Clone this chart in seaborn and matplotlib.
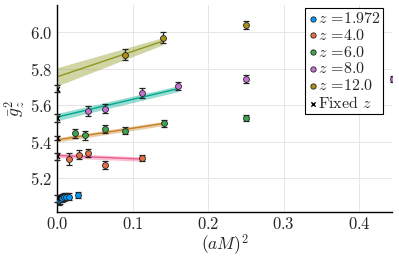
import numpy as np
import pandas as pd
import matplotlib
matplotlib.use('Agg')
import matplotlib.pyplot as plt
import seaborn as sns

# measured points per z value
blue_x = [0.002, 0.004, 0.006, 0.009, 0.012, 0.016, 0.028]
blue_y = [5.080, 5.085, 5.090, 5.095, 5.100, 5.100, 5.110]
blue_e = [0.025, 0.025, 0.022, 0.022, 0.020, 0.018, 0.016]

orange_x = [0.016, 0.029, 0.041, 0.063, 0.112]
orange_y = [5.306, 5.328, 5.339, 5.273, 5.310]
orange_e = [0.035, 0.025, 0.022, 0.020, 0.015]

green_x = [0.024, 0.037, 0.063, 0.090, 0.141, 0.250]
green_y = [5.446, 5.435, 5.470, 5.460, 5.500, 5.530]
green_e = [0.025, 0.025, 0.020, 0.018, 0.018, 0.016]

purple_x = [0.041, 0.063, 0.112, 0.160, 0.250, 0.444]
purple_y = [5.570, 5.580, 5.668, 5.706, 5.744, 5.744]
purple_e = [0.028, 0.025, 0.028, 0.022, 0.020, 0.015]

olive_x = [0.090, 0.140, 0.250]
olive_y = [5.875, 5.970, 6.040]
olive_e = [0.030, 0.032, 0.022]

# fixed-z values at (aM)^2 = 0
fixed_x = [0.0, 0.0, 0.0, 0.0, 0.0]
fixed_y = [5.09, 5.32, 5.42, 5.53, 5.69]
fixed_e = [0.02, 0.02, 0.01, 0.02, 0.02]

# linear fits: end points, centre and half width of band
fit4_x, fit4_y, fit4_w = [0.0, 0.112], [5.325, 5.305], [0.012, 0.012]
fit6_x, fit6_y, fit6_w = [0.0, 0.141], [5.410, 5.500], [0.012, 0.012]
fit8_x, fit8_y, fit8_w = [0.0, 0.160], [5.535, 5.690], [0.020, 0.016]
fit12_x, fit12_y, fit12_w = [0.0, 0.140], [5.755, 5.950], [0.050, 0.020]

labels = ['$z$ =1.972', '$z$ =4.0', '$z$ =6.0', '$z$ =8.0', '$z$ =12.0']
point_colors = ['#009AFA', '#E36F47', '#3EA44E', '#C371D2', '#AC8E18']
fit_colors = ['#ED5E93', '#C68225', '#00A98D', '#8E971D']

sns.set_theme(style='whitegrid')
plt.rcParams['font.family'] = 'serif'
plt.rcParams['font.serif'] = ['cmr10']
plt.rcParams['mathtext.fontset'] = 'cm'
plt.rcParams['axes.formatter.use_mathtext'] = True
plt.rcParams['axes.unicode_minus'] = False

fig, ax = plt.subplots(figsize=(3.99, 2.6), dpi=100)
fig.subplots_adjust(left=0.143, right=0.982, bottom=0.185, top=0.98)

# fit lines with error bands
fits = [(fit4_x, fit4_y, fit4_w), (fit6_x, fit6_y, fit6_w),
        (fit8_x, fit8_y, fit8_w), (fit12_x, fit12_y, fit12_w)]
for (fx, fy, fw), c in zip(fits, fit_colors):
    fy = np.array(fy)
    fw = np.array(fw)
    ax.fill_between(fx, fy - fw, fy + fw, color=c, alpha=0.4, lw=0)
    sns.lineplot(x=fx, y=fy, color=c, lw=1, ax=ax)

# data points with error bars
series = [(blue_x, blue_y, blue_e), (orange_x, orange_y, orange_e),
          (green_x, green_y, green_e), (purple_x, purple_y, purple_e),
          (olive_x, olive_y, olive_e)]
for (sx, sy, se), c, lab in zip(series, point_colors, labels):
    ax.errorbar(sx, sy, yerr=se, fmt='none', ecolor='#222222', elinewidth=0.9,
                capsize=2, capthick=0.9, zorder=3)
    df = pd.DataFrame({'x': sx, 'y': sy})
    sns.scatterplot(data=df, x='x', y='y', color=c, edgecolor='#222222', linewidth=0.6,
                    s=18, zorder=4, ax=ax, label=lab)

ax.errorbar(fixed_x, fixed_y, yerr=fixed_e, fmt='none', ecolor='#222222',
            elinewidth=0.9, capsize=2, zorder=3, clip_on=False)
sns.scatterplot(x=fixed_x, y=fixed_y, marker='x', color='black', s=12, linewidth=1,
                zorder=5, ax=ax, label='Fixed $z$')

ax.set_xlim(0, 0.443)
ax.set_ylim(5.016, 6.147)
ax.set_xticks([0.0, 0.1, 0.2, 0.3, 0.4])
ax.set_yticks([5.2, 5.4, 5.6, 5.8, 6.0])
ax.set_xlabel('$(aM)^2$', fontsize=12.5, labelpad=0)
ax.set_ylabel(r'$\bar{g}^2_z$', fontsize=12.5, labelpad=2)
ax.tick_params(labelsize=12, length=0, pad=3)
ax.grid(True, color='#e6e6e6', lw=0.7)
for s in ['top', 'right']:
    ax.spines[s].set_visible(False)
for s in ['left', 'bottom']:
    ax.spines[s].set_color('black')
    ax.spines[s].set_linewidth(1.0)

leg = ax.legend(loc='upper right', bbox_to_anchor=(0.975, 0.985), fontsize=11.5,
                frameon=True, fancybox=False, framealpha=1, edgecolor='black',
                handletextpad=0.0, handlelength=0.7, borderpad=0.15, labelspacing=0.12,
                borderaxespad=0.0, markerscale=0.9)
leg.get_frame().set_linewidth(0.8)

plt.savefig('out.png', dpi=100)
